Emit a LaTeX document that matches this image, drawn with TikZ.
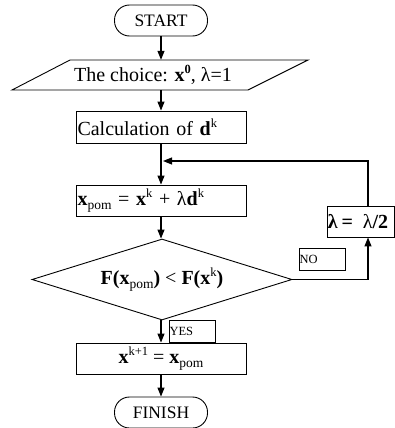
\documentclass[tikz,border=0pt]{standalone}
\usepackage{fontspec}
\setmainfont{Liberation Serif}
\usetikzlibrary{arrows.meta,shapes.geometric}
\newcommand\sps[1]{\raisebox{0.42em}{\fontsize{12.5}{12.5}\selectfont #1}}
\newcommand\sbs[1]{\raisebox{-0.22em}{\fontsize{13.5}{13.5}\selectfont #1}}
\begin{document}
\begin{tikzpicture}[x=1pt,y=-1pt,
  box/.style={draw,line width=0.9pt,inner sep=0pt,minimum width=170pt,minimum height=31pt},
  term/.style={draw,line width=0.9pt,rounded corners=15pt,minimum width=93pt,minimum height=31pt,inner sep=0pt,font=\fontsize{17.5}{20}\selectfont},
  tag/.style={draw,line width=0.9pt,minimum width=46pt,minimum height=22pt,inner sep=0pt,font=\fontsize{12.5}{14}\selectfont},
  arr/.style={line width=1.1pt,-{Triangle[length=9pt,width=7pt]}},
  lbl/.style={font=\fontsize{20}{22}\selectfont,inner sep=0pt}]
\useasboundingbox (0,0) rectangle (395,428);
\node[term] (start) at (161,20.5) {START};
\draw[line width=0.9pt] (70,60) -- (308,60) -- (248,90) -- (12,90) -- cycle;
\node[minimum height=30pt,minimum width=4pt,inner sep=0pt] (choice) at (161,75) {};
\node[lbl] (choicetext) at (153,75) {The choice: \textbf{x}\sps{\textbf{0}}, λ=1};
\node[box,lbl,text width=167pt,align=left,minimum height=32pt] (calc) at (161,127) {Calculation of \textbf{d}\sps{k}};
\node[box,lbl,text width=168pt,align=left] (pom) at (161.5,200.5) {\textbf{x}\sbs{pom} = \textbf{x}\sps{k} + λ\textbf{d}\sps{k}};
\node[diamond,draw,line width=0.9pt,minimum width=260pt,minimum height=81pt,aspect=3.2,lbl] (test) at (162,279.5) {\textbf{F(x}\sbs{pom}\textbf{)} < \textbf{F(x}\sps{k}\textbf{)}};
\node[draw,line width=0.9pt,minimum width=67.5pt,minimum height=31pt,lbl,text width=66pt,align=left] (lam) at (360.75,221.5) {\mbox{\textbf{λ\hspace{4pt}=}\hspace{10pt}λ\textbf{/2}}};
\node[tag,text width=45pt,align=left] (no) at (322,259) {NO};
\node[tag,text width=45pt,align=left] (yes) at (192,331) {YES};
\node[box,lbl] (upd) at (161,358.5) {\textbf{x}\sps{k+1} = \textbf{x}\sbs{pom}};
\node[term] (finish) at (161,412.5) {FINISH};
\coordinate (lx) at (368,0);
\coordinate (join) at (163,161);
\draw[arr] (start) -- (choice.north);
\draw[arr] (choice.south) -- (calc.north);
\draw[arr] (calc.south) -- (calc.south |- pom.north);
\draw[arr] (calc.south |- pom.south) -- (calc.south |- test.north);
\draw[arr] (calc.south |- test.south) -- (calc.south |- upd.north);
\draw[arr] (upd) -- (finish);
\draw[arr] (test.east) -| (lx |- lam.south);
\draw[arr] (lx |- lam.north) |- (join);
\end{tikzpicture}
\end{document}
